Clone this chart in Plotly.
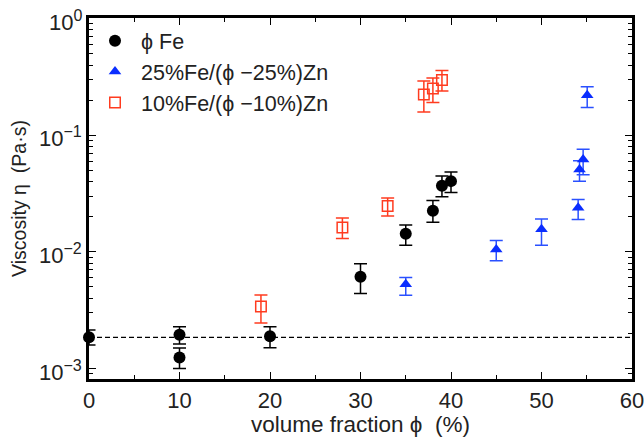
import math
import plotly.graph_objects as go

# phi Fe (black circles)
fe_x = [0, 10, 10, 20, 30, 35, 38, 39, 40]
fe_y = [0.00185, 0.00195, 0.00124, 0.00189, 0.00613, 0.0143, 0.0225, 0.0369, 0.0404]
fe_hi = [0.00214, 0.00228, 0.00150, 0.00228, 0.0079, 0.0170, 0.0275, 0.0448, 0.0484]
fe_lo = [0.00159, 0.00162, 0.00100, 0.00151, 0.0044, 0.0114, 0.0179, 0.0297, 0.0323]

# 25%Fe/(phi-25%)Zn (blue triangles)
zn25_x = [35, 45, 50, 54.05, 54.2, 54.6, 55.05]
zn25_y = [0.00527, 0.0105, 0.0156, 0.0239, 0.0509, 0.0620, 0.220]
zn25_hi = [0.00602, 0.0125, 0.0191, 0.0281, 0.0605, 0.0759, 0.260]
zn25_lo = [0.00425, 0.0084, 0.0114, 0.0189, 0.0404, 0.0459, 0.173]

# 10%Fe/(phi-10%)Zn (red open squares)
zn10_x = [19, 28, 33, 37, 38, 39]
zn10_y = [0.00340, 0.0162, 0.0247, 0.223, 0.251, 0.298]
zn10_hi = [0.00426, 0.0195, 0.0290, 0.291, 0.310, 0.359]
zn10_lo = [0.00245, 0.0130, 0.0203, 0.158, 0.191, 0.239]

base_viscosity = 0.00185

xtick_vals = [0, 10, 20, 30, 40, 50, 60]
ytick_vals = [1e-3, 1e-2, 1e-1, 1]
ytick_exps = ["\u22123", "\u22122", "\u22121", "0"]

FONT = "Liberation Sans, Arial, Helvetica, sans-serif"
TEXT = "#222"


def err(y, hi, lo):
    return dict(type="data", symmetric=False,
                array=[h - v for h, v in zip(hi, y)],
                arrayminus=[v - l for v, l in zip(y, lo)])


fig = go.Figure()
fig.add_trace(go.Scatter(
    x=fe_x, y=fe_y, mode="markers", name="\u03d5 Fe",
    marker=dict(symbol="circle", size=12, color="black"),
    error_y=dict(**err(fe_y, fe_hi, fe_lo), color="black", thickness=1.5, width=6.5),
    cliponaxis=False))
fig.add_trace(go.Scatter(
    x=zn25_x, y=zn25_y, mode="markers", name="25%Fe/(\u03d5 \u221225%)Zn",
    marker=dict(symbol="triangle-up", size=11, color="#0a2dff"),
    error_y=dict(**err(zn25_y, zn25_hi, zn25_lo), color="#2a50ff", thickness=1.5, width=6.5),
    cliponaxis=False))
fig.add_trace(go.Scatter(
    x=zn10_x, y=zn10_y, mode="markers", name="10%Fe/(\u03d5 \u221210%)Zn",
    marker=dict(symbol="square-open", size=10.5, color="#ff3b1f", line=dict(width=1.5)),
    error_y=dict(**err(zn10_y, zn10_hi, zn10_lo), color="#ff3b1f", thickness=1.5, width=6.5),
    cliponaxis=False))

fig.add_shape(type="line", xref="x", yref="y", x0=0, x1=60,
              y0=base_viscosity, y1=base_viscosity,
              line=dict(color="black", width=1.3, dash="5px,3px"), layer="below")

# y tick labels placed right next to the axis (inside ticks leave no gap in the reference)
for v, e in zip(ytick_vals, ytick_exps):
    fig.add_annotation(x=0, xref="paper", y=math.log10(v), yref="y",
                       text=f"10<sup><span style='font-size:16px'>{e}</span></sup>",
                       showarrow=False, xanchor="right", yanchor="middle",
                       xshift=-5, yshift=-2, font=dict(size=22, color=TEXT))

fig.update_layout(
    width=644, height=437,
    margin=dict(l=89, r=12, t=18, b=58, autoexpand=False),
    plot_bgcolor="white", paper_bgcolor="white",
    font=dict(family=FONT, size=21, color=TEXT),
    legend=dict(x=0.0, y=0.994, xanchor="left", yanchor="top",
                bgcolor="rgba(0,0,0,0)", font=dict(size=21.5),
                itemsizing="trace", itemwidth=42, tracegroupgap=0),
    showlegend=True,
)
fig.update_xaxes(
    range=[0, 60], tickvals=xtick_vals, ticks="inside", ticklen=7,
    tickwidth=1.3, tickcolor="black", showline=True, linewidth=2.5, linecolor="black",
    mirror="ticks", showgrid=False, zeroline=False, automargin=False,
    ticklabeloverflow="allow",
    minor=dict(ticks="inside", ticklen=4, tickwidth=1, dtick=5, tickcolor="black"),
    title=dict(text="volume fraction \u03d5  (%)", standoff=6, font=dict(size=22.5)),
    tickfont=dict(size=22))
fig.update_yaxes(
    type="log", range=[-3.09, 0.005], tickvals=ytick_vals, showticklabels=False,
    ticks="inside", ticklen=7, tickwidth=1.3, tickcolor="black",
    showline=True, linewidth=2.5, linecolor="black", mirror="ticks",
    showgrid=False, zeroline=False, automargin=False,
    minor=dict(ticks="inside", ticklen=4, tickwidth=1, dtick="D1", tickcolor="black"),
    title=dict(text="Viscosity \u03b7  (Pa\u00b7s)", standoff=55, font=dict(size=19.5)))

fig.write_html("out.html", config={"displayModeBar": False},
               post_script="document.body.style.margin='0';")
